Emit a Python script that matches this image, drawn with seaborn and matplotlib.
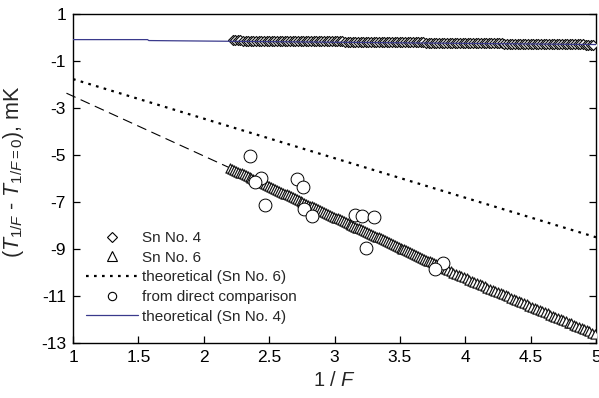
import matplotlib
matplotlib.use("Agg")
import matplotlib.pyplot as plt
import seaborn as sns
from matplotlib.lines import Line2D

# ---------------- data ----------------
sn4_x = [2.22, 2.24, 2.26, 2.28,
         2.30, 2.32, 2.34, 2.36, 2.38, 2.40, 2.42, 2.44,
         2.46, 2.48, 2.50, 2.52, 2.54, 2.56, 2.58, 2.60,
         2.62, 2.64, 2.66, 2.68, 2.70, 2.72, 2.74,
         2.76, 2.78, 2.80, 2.82, 2.84, 2.86, 2.88, 2.90,
         2.92, 2.94, 2.96, 2.98, 3.00, 3.02, 3.04, 3.06,
         3.08, 3.10, 3.12, 3.14, 3.16, 3.18, 3.20, 3.22,
         3.24, 3.26, 3.28, 3.30, 3.32, 3.34, 3.36,
         3.38, 3.40, 3.42, 3.44, 3.46, 3.48, 3.50, 3.52,
         3.54, 3.56, 3.58, 3.60, 3.62, 3.64, 3.66, 3.68,
         3.70, 3.72, 3.74, 3.76, 3.78, 3.80, 3.82,
         3.84, 3.86, 3.88, 3.90, 3.92, 3.94, 3.96, 3.98,
         4.00, 4.02, 4.04, 4.06, 4.08, 4.10, 4.12, 4.14,
         4.16, 4.18, 4.20, 4.22, 4.24, 4.26, 4.28,
         4.30, 4.32, 4.34, 4.36, 4.38, 4.40, 4.42, 4.44,
         4.46, 4.48, 4.50, 4.52, 4.54, 4.56, 4.58, 4.60,
         4.62, 4.64, 4.66, 4.68, 4.70, 4.72, 4.74,
         4.76, 4.78, 4.80, 4.82, 4.84, 4.86, 4.88, 4.90,
         4.92, 4.94, 4.96, 4.98]
sn4_y = [-0.12, -0.12, -0.12, -0.12,
         -0.13, -0.13, -0.13, -0.13, -0.13, -0.13, -0.13, -0.13,
         -0.14, -0.14, -0.14, -0.14, -0.14, -0.14, -0.14, -0.14,
         -0.15, -0.15, -0.15, -0.15, -0.15, -0.15, -0.15,
         -0.16, -0.16, -0.16, -0.16, -0.16, -0.16, -0.16, -0.16,
         -0.17, -0.17, -0.17, -0.17, -0.17, -0.17, -0.17, -0.17,
         -0.18, -0.18, -0.18, -0.18, -0.18, -0.18, -0.18, -0.18,
         -0.19, -0.19, -0.19, -0.19, -0.19, -0.19, -0.19,
         -0.20, -0.20, -0.20, -0.20, -0.20, -0.20, -0.20, -0.20,
         -0.21, -0.21, -0.21, -0.21, -0.21, -0.21, -0.21, -0.21,
         -0.22, -0.22, -0.22, -0.22, -0.22, -0.22, -0.22,
         -0.23, -0.23, -0.23, -0.23, -0.23, -0.23, -0.23, -0.23,
         -0.24, -0.24, -0.24, -0.24, -0.24, -0.24, -0.24, -0.24,
         -0.25, -0.25, -0.25, -0.25, -0.25, -0.25, -0.25,
         -0.26, -0.26, -0.26, -0.26, -0.26, -0.26, -0.26, -0.26,
         -0.27, -0.27, -0.27, -0.27, -0.27, -0.27, -0.27, -0.27,
         -0.28, -0.28, -0.28, -0.28, -0.28, -0.28, -0.28,
         -0.29, -0.29, -0.29, -0.29, -0.29, -0.29, -0.29, -0.29,
         -0.30, -0.30, -0.30, -0.30]

sn6_x = [2.200, 2.215, 2.230, 2.245, 2.260, 2.275, 2.290, 2.305, 2.320, 2.335,
         2.350, 2.365, 2.380, 2.395, 2.410, 2.425, 2.440, 2.455, 2.470, 2.485,
         2.500, 2.515, 2.530, 2.545, 2.560, 2.575, 2.590, 2.605, 2.620, 2.635,
         2.650, 2.665, 2.680, 2.695, 2.710, 2.725, 2.740, 2.755, 2.770, 2.785,
         2.800, 2.815, 2.830, 2.845, 2.860, 2.875, 2.890, 2.905, 2.920, 2.935,
         2.950, 2.965, 2.980, 2.995, 3.010, 3.025, 3.040, 3.055, 3.070, 3.085,
         3.100, 3.115, 3.130, 3.145, 3.160, 3.175, 3.190, 3.205, 3.220, 3.235,
         3.250, 3.265, 3.280, 3.295, 3.310, 3.325, 3.340, 3.355, 3.370, 3.385,
         3.400, 3.415, 3.430, 3.445, 3.460, 3.475, 3.490, 3.505, 3.520, 3.535,
         3.550, 3.565, 3.580, 3.595, 3.610, 3.625, 3.640, 3.655, 3.670, 3.685,
         3.700, 3.715, 3.730, 3.745, 3.760, 3.775, 3.790,
         3.81, 3.83, 3.85, 3.87, 3.89, 3.91, 3.93, 3.95, 3.97, 3.99,
         4.01, 4.03, 4.05, 4.07, 4.09, 4.11, 4.13, 4.15, 4.17, 4.19,
         4.21, 4.23, 4.25, 4.27, 4.29, 4.31, 4.33, 4.35, 4.37, 4.39,
         4.41, 4.43, 4.45, 4.47, 4.49, 4.51, 4.53, 4.55, 4.57, 4.59,
         4.61, 4.63, 4.65, 4.67, 4.69, 4.71, 4.73, 4.75, 4.77, 4.79,
         4.81, 4.83, 4.85, 4.87, 4.89, 4.91, 4.93, 4.95, 4.97, 4.99]
sn6_y = [-5.55, -5.59, -5.63, -5.67, -5.71, -5.75, -5.78, -5.82, -5.86, -5.90,
         -5.94, -5.98, -6.02, -6.06, -6.10, -6.14, -6.17, -6.21, -6.25, -6.29,
         -6.33, -6.37, -6.41, -6.45, -6.49, -6.53, -6.56, -6.60, -6.64, -6.68,
         -6.72, -6.76, -6.80, -6.84, -6.88, -6.92, -6.95, -6.99, -7.03, -7.07,
         -7.11, -7.15, -7.19, -7.23, -7.27, -7.31, -7.34, -7.38, -7.42, -7.46,
         -7.50, -7.54, -7.58, -7.62, -7.66, -7.70, -7.73, -7.77, -7.81, -7.85,
         -7.89, -7.93, -7.97, -8.01, -8.05, -8.09, -8.12, -8.16, -8.20, -8.24,
         -8.28, -8.32, -8.36, -8.40, -8.44, -8.48, -8.51, -8.55, -8.59, -8.63,
         -8.67, -8.71, -8.75, -8.79, -8.83, -8.87, -8.90, -8.94, -8.98, -9.02,
         -9.06, -9.10, -9.14, -9.18, -9.22, -9.26, -9.29, -9.33, -9.37, -9.41,
         -9.45, -9.49, -9.53, -9.57, -9.61, -9.65, -9.68,
         -9.74, -9.79, -9.84, -9.89, -9.95, -10.00, -10.05, -10.10, -10.15, -10.20,
         -10.25, -10.30, -10.35, -10.40, -10.45, -10.49, -10.54, -10.59, -10.64, -10.69,
         -10.73, -10.78, -10.83, -10.88, -10.93, -10.97, -11.02, -11.07, -11.12, -11.17,
         -11.21, -11.26, -11.31, -11.36, -11.41, -11.45, -11.50, -11.55, -11.60, -11.65,
         -11.69, -11.74, -11.79, -11.84, -11.89, -11.93, -11.98, -12.03, -12.08, -12.13,
         -12.17, -12.22, -12.27, -12.32, -12.37, -12.41, -12.46, -12.51, -12.56, -12.61]

direct_x = [2.35, 2.44, 2.39, 2.47, 2.71, 2.76, 2.77, 2.83, 3.16, 3.21, 3.30, 3.24, 3.83, 3.77]
direct_y = [-5.04, -5.99, -6.16, -7.13, -6.03, -6.38, -7.30, -7.58, -7.55, -7.60, -7.62, -8.97,
            -9.61, -9.86]

theo6_x = [1.0, 5.0]
theo6_y = [-1.77, -8.50]

theo4_x = [1.0, 1.57, 1.58, 5.0]
theo4_y = [-0.09, -0.09, -0.13, -0.30]

fit6_x = [0.95, 2.20]
fit6_y = [-2.37, -5.55]

legend_labels = ["Sn No. 4", "Sn No. 6", "theoretical (Sn No. 6)",
                 "from direct comparison", "theoretical (Sn No. 4)"]

# ---------------- style ----------------
sns.set_style("ticks")
plt.rcParams['font.family'] = ['Liberation Sans', 'DejaVu Sans']
plt.rcParams['mathtext.fontset'] = 'custom'
plt.rcParams['mathtext.rm'] = 'Liberation Sans'
plt.rcParams['mathtext.it'] = 'Liberation Sans:italic'
plt.rcParams['axes.unicode_minus'] = False

fig = plt.figure(figsize=(5.99, 3.98), dpi=100)
ax = fig.add_axes([73 / 599, 55 / 398, 523 / 599, 329 / 398])

blue = "#3a3a8c"

# lines
sns.lineplot(x=theo6_x, y=theo6_y, ax=ax, color="black", lw=1.6, estimator=None,
             linestyle=(0, (1.2, 2.4)))
ax.plot(fit6_x, fit6_y, color="black", lw=0.8, linestyle=(0, (9, 5)), clip_on=False)

# markers
sns.scatterplot(x=sn4_x, y=sn4_y, ax=ax, marker="D", s=26, facecolor="white",
                edgecolor="#111111", linewidth=0.85, zorder=3)
sns.scatterplot(x=sn6_x, y=sn6_y, ax=ax, marker="^", s=44, facecolor="white",
                edgecolor="#111111", linewidth=0.85, zorder=3)
sns.lineplot(x=theo4_x, y=theo4_y, ax=ax, color=blue, lw=0.9, estimator=None, sort=False,
             zorder=4)
sns.scatterplot(x=direct_x, y=direct_y, ax=ax, marker="o", s=85, facecolor="white",
                edgecolor="black", linewidth=0.7, zorder=5)

# axes
ax.set_xlim(1, 5)
ax.set_ylim(-13, 1)
ax.set_xticks([1, 1.5, 2, 2.5, 3, 3.5, 4, 4.5, 5])
ax.set_xticklabels(["1", "1.5", "2", "2.5", "3", "3.5", "4", "4.5", "5"])
ax.set_yticks(list(range(-13, 2, 2)))
ax.tick_params(direction="in", length=5, width=0.9, labelsize=12.5, right=True, top=False,
               colors="black", pad=5)
for s in ax.spines.values():
    s.set_linewidth(1.0)
    s.set_color("black")

ax.set_xlabel(r"1 / $\it{F}$", fontsize=14.5, labelpad=4)
ax.set_ylabel(r"($\it{T}_{1/\it{F}}$ - $\it{T}_{1/\it{F}=0}$), mK", fontsize=15.5)
ax.yaxis.set_label_coords(-0.09, 0.52)

# legend
handles = [
    Line2D([], [], ls="none", marker="D", ms=5.5, mfc="white", mec="black", mew=0.8),
    Line2D([], [], ls="none", marker="^", ms=6.5, mfc="white", mec="black", mew=0.8),
    Line2D([], [], color="black", lw=1.6, ls=(0, (1.2, 2.4))),
    Line2D([], [], ls="none", marker="o", ms=6, mfc="white", mec="black", mew=0.8),
    Line2D([], [], color=blue, lw=0.9),
]
ax.legend(handles, legend_labels, loc="upper left", bbox_to_anchor=(0.025, 0.34),
          frameon=False, fontsize=11, handlelength=3.4, handletextpad=0.25,
          labelspacing=0.37, borderpad=0, borderaxespad=0, numpoints=1)

fig.savefig("out.png", dpi=100)
